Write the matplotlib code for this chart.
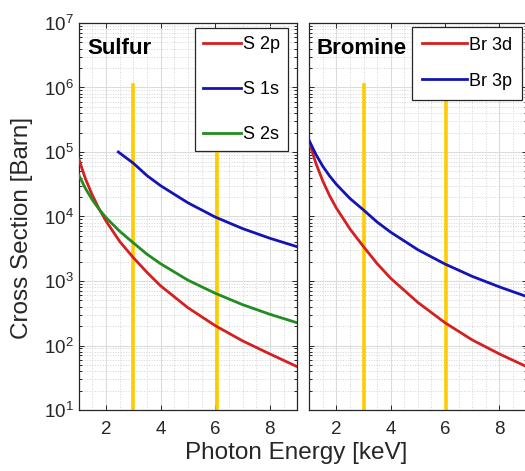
import matplotlib
matplotlib.use("Agg")
import matplotlib.pyplot as plt
from matplotlib.ticker import LogLocator, MultipleLocator, NullFormatter

plt.rcParams['font.family'] = ['Liberation Sans', 'DejaVu Sans']

# energies in keV
energy = [1, 1.25, 1.5, 1.75, 2, 2.5, 3, 3.5, 4, 5, 6, 7, 8, 9]

# Sulfur cross sections (barn)
s2p = [7.8e4, 3.8e4, 2.13e4, 1.3e4, 8.5e3, 4.1e3, 2.3e3, 1.36e3, 8.4e2, 3.85e2, 2.03e2, 1.18e2, 74, 47]
s2s = [4.4e4, 2.7e4, 1.8e4, 1.29e4, 9.6e3, 5.9e3, 3.9e3, 2.6e3, 1.85e3, 1.03e3, 6.45e2, 4.3e2, 3.05e2, 2.25e2]
energy_1s = [2.45, 3, 3.5, 4, 5, 6, 7, 8, 9]
s1s = [1.0e5, 6.7e4, 4.3e4, 3.0e4, 1.63e4, 9.8e3, 6.5e3, 4.6e3, 3.4e3]

# Bromine cross sections (barn)
br3d = [1.4e5, 6.6e4, 3.55e4, 2.1e4, 1.35e4, 6.4e3, 3.4e3, 1.86e3, 1.1e3, 4.65e2, 2.25e2, 1.22e2, 74, 47]
br3p = [1.5e5, 9.1e4, 6.0e4, 4.25e4, 3.15e4, 1.9e4, 1.26e4, 8.2e3, 5.7e3, 3.05e3, 1.83e3, 1.18e3, 8.1e2, 5.75e2]

# marked photon energies
marks = [3.0, 6.05]
mark_top = 1.1e6

red = '#d42020'
blue = '#1414b4'
green = '#228b22'
yellow = '#ffcc00'

fig = plt.figure(figsize=(5.25, 4.71), dpi=100)
ax1 = fig.add_axes([0.150, 0.1295, 0.416, 0.8217])
ax2 = fig.add_axes([0.589, 0.1295, 0.414, 0.8217])

for ax in (ax1, ax2):
    for m in marks:
        ax.plot([m, m], [10, mark_top], color=yellow, lw=2.6, zorder=2)

ax1.plot(energy, s2p, color=red, lw=2, label='S 2p', zorder=3)
ax1.plot(energy_1s, s1s, color=blue, lw=2, label='S 1s', zorder=3)
ax1.plot(energy, s2s, color=green, lw=2, label='S 2s', zorder=3)

ax2.plot(energy, br3d, color=red, lw=2, label='Br 3d', zorder=3)
ax2.plot(energy, br3p, color=blue, lw=2, label='Br 3p', zorder=3)

for ax in (ax1, ax2):
    ax.set_yscale('log')
    ax.set_xlim(1, 9)
    ax.set_ylim(10, 1e7)
    ax.xaxis.set_major_locator(MultipleLocator(2))
    ax.xaxis.set_minor_locator(MultipleLocator(0.5))
    ax.yaxis.set_major_locator(LogLocator(base=10, numticks=10))
    ax.yaxis.set_minor_locator(LogLocator(base=10, subs=range(2, 10), numticks=20))
    ax.yaxis.set_minor_formatter(NullFormatter())
    ax.grid(True, which='major', color='#dcdcdc', lw=0.8, ls='-')
    ax.grid(True, which='minor', color='#d4d4d4', lw=0.7, ls=':')
    ax.set_axisbelow(True)
    ax.tick_params(which='both', direction='in', top=True, right=True,
                   colors='#262626', labelsize=13.5, length=3.5, width=0.7)
    ax.tick_params(which='minor', length=2)
    ax.tick_params(axis='x', which='minor', length=0)
    for sp in ax.spines.values():
        sp.set_color('#262626')
        sp.set_linewidth(0.9)
    ax.tick_params(axis='x', pad=8)

ax2.tick_params(axis='y', labelleft=False)

ax1.text(0.038, 0.935, 'Sulfur', transform=ax1.transAxes, fontsize=16,
         fontweight='bold', va='center', ha='left')
ax2.text(0.032, 0.935, 'Bromine', transform=ax2.transAxes, fontsize=16,
         fontweight='bold', va='center', ha='left')

leg1 = ax1.legend(loc='upper right', bbox_to_anchor=(0.959, 0.987), borderaxespad=0,
                  fontsize=13, handlelength=2.1, handletextpad=0.1, labelspacing=1.55,
                  borderpad=0.45, fancybox=False, framealpha=1, edgecolor='#262626')
leg1.get_frame().set_linewidth(0.9)
leg2 = ax2.legend(loc='upper right', bbox_to_anchor=(0.977, 0.99), borderaxespad=0,
                  fontsize=13, handlelength=2.5, handletextpad=0.1, labelspacing=1.05,
                  borderpad=0.55, fancybox=False, framealpha=1, edgecolor='#262626')
leg2.get_frame().set_linewidth(0.9)

fig.text(0.565, 0.038, 'Photon Energy [keV]', ha='center', va='center', fontsize=17.5, color='#262626')
fig.text(0.042, 0.515, 'Cross Section [Barn]', ha='center', va='center', rotation=90,
         fontsize=17.5, color='#262626')

fig.savefig('out.png', dpi=100)
